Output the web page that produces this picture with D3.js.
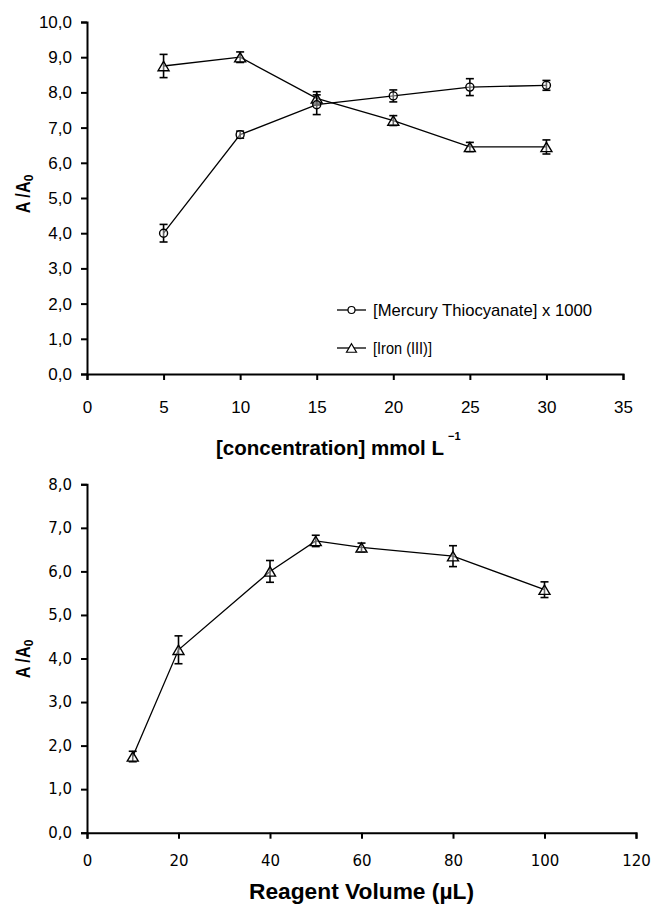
<!DOCTYPE html>
<html><head><meta charset="utf-8">
<script src="https://cdn.jsdelivr.net/npm/d3@7"></script>
<style>
body{margin:0;background:#fff;}
svg{display:block;}
.lib{font-family:"Liberation Sans",Arial,sans-serif;}
.dv{font-family:"DejaVu Sans",sans-serif;}
</style></head>
<body>
<script>
// ---- Data ----
const concX = [5, 10, 15, 20, 25, 30];
const mercury = [4.0, 6.8, 7.65, 7.9, 8.15, 8.2];
const mercuryErr = [0.25, 0.1, 0.28, 0.17, 0.24, 0.14];
const iron = [8.75, 9.0, 7.83, 7.2, 6.45, 6.45];
const ironErr = [0.33, 0.15, 0.19, 0.14, 0.13, 0.2];
const concTicks = [0, 5, 10, 15, 20, 25, 30, 35];
const ratioTicksTop = [0, 1, 2, 3, 4, 5, 6, 7, 8, 9, 10];

const volX = [10, 20, 40, 50, 60, 80, 100];
const volY = [1.75, 4.2, 6.0, 6.7, 6.55, 6.35, 5.58];
const volErr = [0.12, 0.32, 0.25, 0.13, 0.1, 0.24, 0.18];
const volTicks = [0, 20, 40, 60, 80, 100, 120];
const ratioTicksBottom = [0, 1, 2, 3, 4, 5, 6, 7, 8];

const legendLabels = ["[Mercury Thiocyanate] x 1000", "[Iron (III)]"];

const fmt = v => d3.format(".1f")(v).replace(".", ",");

const svg = d3.select("body").append("svg").attr("width", 652).attr("height", 904);

function triPath(cx, cy, s) {
  const h = s * 0.85;
  return `M${cx},${cy - h / 2}L${cx + s / 2},${cy + h / 2}L${cx - s / 2},${cy + h / 2}Z`;
}

function drawSeries(g, x, y, xs, ys, errs, shape) {
  const line = d3.line().x((d, i) => x(xs[i])).y(d => y(d));
  g.append("path").attr("d", line(ys)).attr("fill", "none").attr("stroke", "#000").attr("stroke-width", 1.3);
  const eb = g.append("g");
  ys.forEach((v, i) => {
    const cx = x(xs[i]), y1 = y(v + errs[i]), y2 = y(v - errs[i]);
    eb.append("line").attr("x1", cx).attr("x2", cx).attr("y1", y1).attr("y2", y2).attr("stroke", "#000").attr("stroke-width", 1.6);
    eb.append("line").attr("x1", cx - 4).attr("x2", cx + 4).attr("y1", y1).attr("y2", y1).attr("stroke", "#000").attr("stroke-width", 1.6);
    eb.append("line").attr("x1", cx - 4).attr("x2", cx + 4).attr("y1", y2).attr("y2", y2).attr("stroke", "#000").attr("stroke-width", 1.6);
    if (shape === "circle") {
      eb.append("circle").attr("cx", cx).attr("cy", y(v)).attr("r", 4).attr("fill", "#fff").attr("fill-opacity", 0.4).attr("stroke", "#000").attr("stroke-width", 1.4);
    } else {
      eb.append("path").attr("d", triPath(cx, y(v), 11)).attr("fill", "#fff").attr("fill-opacity", 0.4).attr("stroke", "#000").attr("stroke-width", 1.4);
    }
  });
}

function styleAxis(a) {
  a.select(".domain").attr("stroke", "#000").attr("stroke-width", 2);
  a.selectAll(".tick line").attr("stroke", "#000").attr("stroke-width", 2);
  a.selectAll(".tick text").attr("fill", "#000");
}

// ---- Top chart ----
const xTop = d3.scaleLinear().domain([0, 35]).range([87, 623]);
const yTop = d3.scaleLinear().domain([0, 10]).range([374, 22]);
const gTop = svg.append("g");

const axLT = gTop.append("g").attr("transform", "translate(87,0)").attr("class", "lib")
  .call(d3.axisLeft(yTop).tickValues(ratioTicksTop).tickFormat(fmt).tickSizeOuter(0).tickSize(6).tickPadding(9));
axLT.selectAll("text").attr("font-size", 17);
styleAxis(axLT);
const axBT = gTop.append("g").attr("transform", "translate(0,374)").attr("class", "lib")
  .call(d3.axisBottom(xTop).tickValues(concTicks).tickFormat(d3.format("d")).tickSizeOuter(0).tickSize(6).tickPadding(21));
axBT.selectAll("text").attr("font-size", 17);
styleAxis(axBT);

drawSeries(gTop, xTop, yTop, concX, iron, ironErr, "tri");
drawSeries(gTop, xTop, yTop, concX, mercury, mercuryErr, "circle");

// legend
const leg = gTop.append("g").attr("class", "lib");
const legLen = [219, 59];
[["circle", 310], ["tri", 348]].forEach(([shape, ly], i) => {
  leg.append("line").attr("x1", 337).attr("x2", 366).attr("y1", ly).attr("y2", ly).attr("stroke", "#000").attr("stroke-width", 1.3);
  if (shape === "circle") leg.append("circle").attr("cx", 351.5).attr("cy", ly).attr("r", 3.5).attr("fill", "#fff").attr("stroke", "#000").attr("stroke-width", 1.2);
  else leg.append("path").attr("d", triPath(351.5, ly, 10)).attr("fill", "#fff").attr("stroke", "#000").attr("stroke-width", 1.2);
  leg.append("text").attr("x", 373).attr("y", ly + 6).attr("font-size", 17)
    .attr("textLength", legLen[i]).attr("lengthAdjust", "spacingAndGlyphs").text(legendLabels[i]);
});

// titles
gTop.append("text").attr("class", "lib").attr("x", 216).attr("y", 455)
  .attr("font-size", 20).attr("font-weight", "bold")
  .attr("textLength", 228).attr("lengthAdjust", "spacingAndGlyphs").text("[concentration] mmol L");
gTop.append("text").attr("class", "lib").attr("x", 448).attr("y", 440)
  .attr("font-size", 11).attr("font-weight", "bold").text("−1");

function yTitle(cy) {
  const t = svg.append("text").attr("class", "lib").attr("transform", `translate(30,${cy}) rotate(-90)`)
    .attr("text-anchor", "middle").attr("font-size", 20).attr("font-weight", "bold");
  t.append("tspan").attr("textLength", 32).attr("lengthAdjust", "spacingAndGlyphs").text("A /A");
  t.append("tspan").attr("dy", 3).attr("font-size", 12).text("0");
}
yTitle(194);

// ---- Bottom chart ----
const xBot = d3.scaleLinear().domain([0, 120]).range([87, 636]);
const yBot = d3.scaleLinear().domain([0, 8]).range([832.7, 484.3]);
const gBot = svg.append("g");

const axLB = gBot.append("g").attr("transform", "translate(87,0)").attr("class", "dv")
  .call(d3.axisLeft(yBot).tickValues(ratioTicksBottom).tickFormat(fmt).tickSizeOuter(0).tickSize(6).tickPadding(9));
axLB.selectAll("text").attr("font-size", 15);
styleAxis(axLB);
const axBB = gBot.append("g").attr("transform", "translate(0,832.7)").attr("class", "dv")
  .call(d3.axisBottom(xBot).tickValues(volTicks).tickFormat(d3.format("d")).tickSizeOuter(0).tickSize(6).tickPadding(17));
axBB.selectAll("text").attr("font-size", 15);
styleAxis(axBB);

drawSeries(gBot, xBot, yBot, volX, volY, volErr, "tri");

gBot.append("text").attr("class", "lib").attr("x", 249).attr("y", 899)
  .attr("font-size", 22).attr("font-weight", "bold")
  .attr("textLength", 225).attr("lengthAdjust", "spacingAndGlyphs").text("Reagent Volume (µL)");
yTitle(659);
</script>
</body></html>
